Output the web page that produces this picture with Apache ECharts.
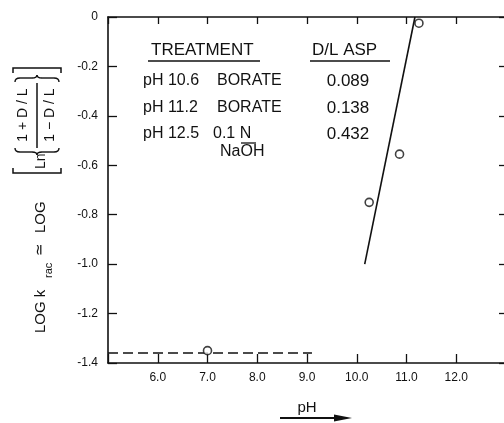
<!DOCTYPE html>
<html>
<head>
<meta charset="utf-8">
<style>
  html,body{margin:0;padding:0;background:#fff;}
  #chart{width:504px;height:423px;}
</style>
<script src="https://cdn.jsdelivr.net/npm/echarts@6/dist/echarts.min.js"></script>
</head>
<body>
<div id="chart"></div>
<script>
(function(){
  // 数据点 (pH, log k)
  const pointsPH   = [7.0, 10.25, 10.86, 11.25];
  const pointsLogK = [-1.35, -0.75, -0.555, -0.025];
  // 拟合直线
  const fitPH   = [10.16, 11.17];
  const fitLogK = [-1.0, 0.0];
  // 虚线基线
  const basePH   = [5.0, 9.1];
  const baseLogK = [-1.36, -1.36];
  // 表格
  const treatments = ['pH 10.6', 'pH 11.2', 'pH 12.5'];
  const media      = ['BORATE', 'BORATE', '0.1 N'];
  const mediaSub   = ['', '', 'NaOH'];
  const dlAsp      = ['0.089', '0.138', '0.432'];

  const FONT = '"Liberation Sans", Arial, sans-serif';
  const BLACK = '#111';

  const pairs = (xs, ys)=>xs.map((x,i)=>[x, ys[i]]);
  const txt = (x, y, text, size, align)=>({
    type:'text', x, y,
    style:{text, fill:BLACK, font:`${size}px ${FONT}`, align:align||'left', verticalAlign:'middle'}
  });
  const seg = (x1,y1,x2,y2,w)=>({type:'line', shape:{x1,y1,x2,y2}, style:{stroke:BLACK, lineWidth:w||1.5}});
  const qcurve = (x1,y1,cx,cy,x2,y2)=>({type:'bezierCurve', shape:{x1,y1,x2,y2,cpx1:cx,cpy1:cy},
    style:{stroke:BLACK, fill:null, lineWidth:1.4}});

  // 花括号: dir = -1 为 "{", +1 为 "}"
  function brace(c, dir){
    const a = c - dir*4, t = c + dir*3;
    return [
      qcurve(a,15, c,15, c,20), seg(c,20,c,32,1.4),
      qcurve(c,32, c,37, t,37), qcurve(t,37, c,37, c,42),
      seg(c,42,c,54,1.4), qcurve(c,54, c,59, a,59)
    ];
  }

  // 纵轴标题 (旋转坐标: lx = 423 - 屏幕y, ly = 屏幕x)
  const yTitle = {
    type:'group', x:0, y:423, rotation:Math.PI/2,
    children:[
      txt(90, 41, 'LOG k', 15),
      txt(145, 49, 'rac', 11),
      txt(174, 40, '≃', 15, 'center'),
      txt(190, 41, 'LOG', 15),
      {type:'polyline', shape:{points:[[255,13],[250,13],[250,61],[255,61]]}, style:{stroke:BLACK, fill:null, lineWidth:1.5}},
      txt(254, 41, 'Ln', 14),
      seg(275, 37, 340, 37, 1.5),
      txt(308, 23, '1 + D / L', 14, 'center'),
      txt(308, 50, '1 − D / L', 14, 'center'),
      {type:'polyline', shape:{points:[[350,13],[355,13],[355,61],[350,61]]}, style:{stroke:BLACK, fill:null, lineWidth:1.5}}
    ].concat(brace(271, -1), brace(345, 1))
  };

  // 表格
  const rowY = [81, 108, 134];
  const table = [
    txt(151, 50, 'TREATMENT', 17),
    seg(148, 61, 260, 61, 1.5),
    txt(312, 50, 'D/L ASP', 17),
    seg(310, 61, 390, 61, 1.5)
  ];
  treatments.forEach((t,i)=>{
    table.push(txt(143, rowY[i], t, 16));
    table.push(txt(i===2?213:217, rowY[i], media[i], 16));
    table.push(txt(348, rowY[i], dlAsp[i], 17, 'center'));
    if(mediaSub[i]) table.push(txt(220, rowY[i]+18, mediaSub[i], 16));
  });
  table.push(seg(241, 143, 256, 143, 1.3)); // N 下划线

  // 横轴箭头
  const arrow = [
    seg(280, 418, 338, 418, 2),
    {type:'polygon', shape:{points:[[334,414.5],[352,418],[334,421.5]]}, style:{fill:BLACK}}
  ];

  const axisCommon = {
    type:'value', axisLine:{show:true, onZero:false, lineStyle:{color:BLACK, width:1.6}},
    splitLine:{show:false}
  };

  const chart = echarts.init(document.getElementById('chart'), null, {renderer:'canvas'});
  chart.setOption({
    animation:false,
    backgroundColor:'#fff',
    grid:{left:108, width:398, top:17, height:346, containLabel:false, outerBoundsMode:'none'},
    xAxis:[
      Object.assign({}, axisCommon, {
        position:'bottom', min:5, max:13, interval:1,
        axisTick:{inside:true, length:9, lineStyle:{color:BLACK, width:1.3}},
        axisLabel:{color:BLACK, fontSize:12, fontFamily:FONT, margin:9,
          formatter:v=>(v===5||v===13)?'':v.toFixed(1)},
        name:'pH', nameLocation:'middle', nameGap:37,
        nameTextStyle:{color:BLACK, fontSize:15, fontFamily:FONT}
      }),
      Object.assign({}, axisCommon, {
        position:'top', min:5, max:13, interval:1,
        axisTick:{inside:true, length:7, lineStyle:{color:BLACK, width:1.3}},
        axisLabel:{show:false}
      })
    ],
    yAxis:[
      Object.assign({}, axisCommon, {
        position:'left', min:-1.4, max:0, interval:0.2,
        axisTick:{inside:true, length:9, lineStyle:{color:BLACK, width:1.3}},
        axisLabel:{color:BLACK, fontSize:12, fontFamily:FONT, margin:10,
          formatter:v=>Math.abs(v)<1e-9?'0':v.toFixed(1)}
      }),
      Object.assign({}, axisCommon, {
        position:'right', min:-1.4, max:0, interval:0.2,
        axisLine:{show:false, onZero:false},
        axisTick:{inside:true, length:7, lineStyle:{color:BLACK, width:1.3}},
        axisLabel:{show:false}
      })
    ],
    series:[
      {type:'line', name:'base', data:pairs(basePH, baseLogK), showSymbol:false, symbol:'none',
        lineStyle:{color:BLACK, width:1.5, type:[10,5]}, z:2},
      {type:'line', name:'fit', data:pairs(fitPH, fitLogK), showSymbol:false, symbol:'none',
        lineStyle:{color:BLACK, width:1.6}, z:2},
      {type:'scatter', name:'pts', data:pairs(pointsPH, pointsLogK), symbol:'circle', symbolSize:8,
        itemStyle:{color:'#fff', borderColor:BLACK, borderWidth:1.6}, z:3}
    ],
    graphic:[yTitle].concat(table, arrow)
  });
})();
</script>
</body>
</html>
